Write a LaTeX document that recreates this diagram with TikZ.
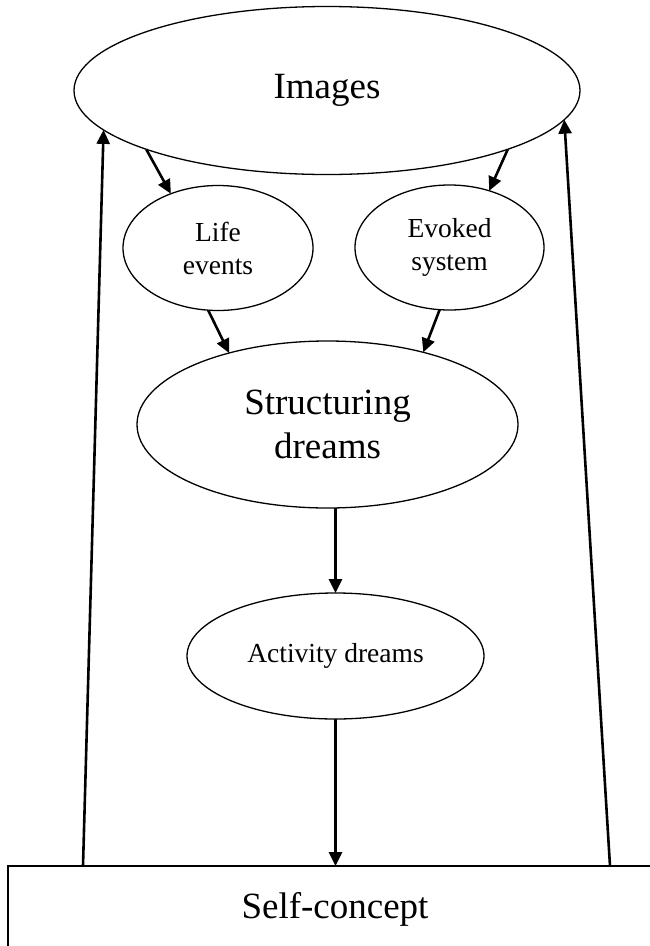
\documentclass[tikz,border=0pt]{standalone}
\usepackage{fontspec}
\setmainfont{Liberation Serif}
\usetikzlibrary{shapes.geometric,arrows.meta}
\begin{document}
\begin{tikzpicture}[x=1pt,y=-1pt,
  oval/.style={ellipse,draw,line width=1.3pt,inner sep=0pt,outer sep=0pt,align=center},
  big/.style={font=\fontsize{37}{44}\selectfont},
  small/.style={font=\fontsize{27.5}{33}\selectfont},
  conn/.style={line width=2.6pt,-{Triangle[length=14pt,width=13pt]}}]
\useasboundingbox (0,0) rectangle (650,946);
\node[oval,big,minimum width=506pt,minimum height=168pt] (img) at (327,90.5) {Images};
\node[oval,small,minimum width=190pt,minimum height=125pt] (life) at (218,248) {Life\\events};
\node[oval,small,minimum width=189pt,minimum height=125pt] (evk) at (449.5,247.5) {Evoked\\system};
\node[oval,big,minimum width=381pt,minimum height=167pt] (str) at (327.5,424.5) {Structuring\\dreams};
\node[oval,small,minimum width=297pt,minimum height=126pt] (act) at (335.5,656) {Activity dreams};
\node[draw,line width=1.3pt,anchor=north west,minimum width=700pt,minimum height=120pt,inner sep=0pt,outer sep=0pt] (self) at (8,866) {};
\node[big] (selftext) at (335,909) {Self-concept};
\draw[conn] (img.198.6) -- (life.131);
\draw[conn] (img.342) -- (evk.55);
\draw[conn] (life.261) -- (str.144);
\draw[conn] (evk.261) -- (str.37);
\draw[conn] (str.south -| act.north) -- (act.north);
\draw[conn] (act.south) -- (act.south |- self.north);
\draw[conn] ([xshift=75pt]self.north west) -- (img.190.5);
\draw[conn] ([xshift=602pt]self.north west) -- (img.353.4);
\end{tikzpicture}
\end{document}
